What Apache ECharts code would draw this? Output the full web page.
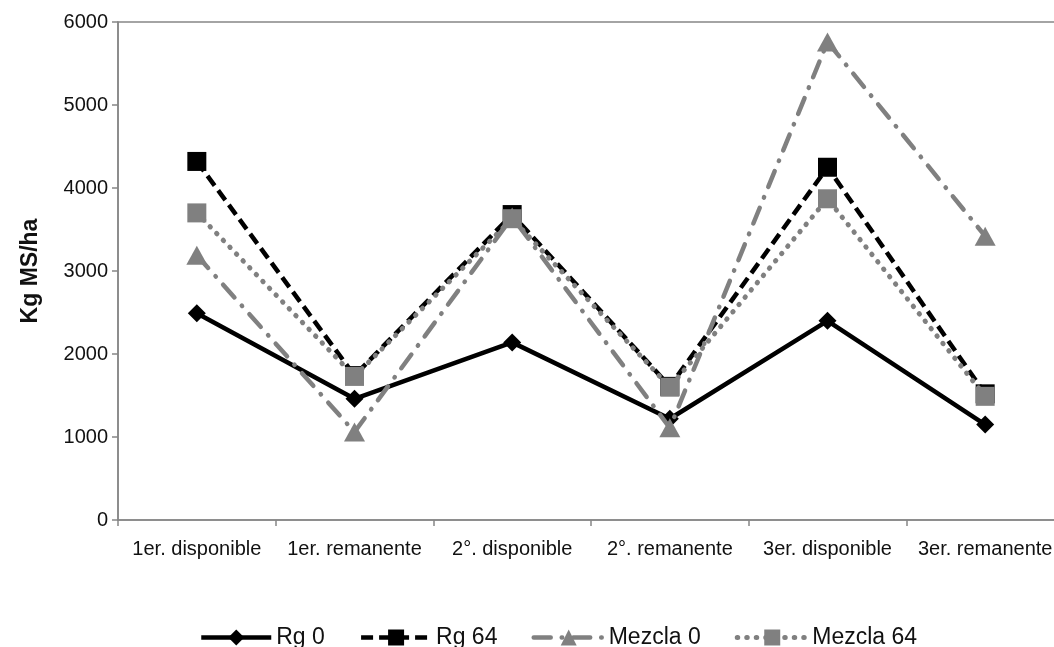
<!DOCTYPE html>
<html>
<head>
<meta charset="utf-8">
<script src="https://cdn.jsdelivr.net/npm/echarts@6/dist/echarts.min.js"></script>
<style>
html,body{margin:0;padding:0;background:#fff;}
#chart{width:1054px;height:647px;}
</style>
</head>
<body>
<div id="chart"></div>
<script>
const categories = ['1er. disponible','1er. remanente','2°. disponible','2°. remanente','3er. disponible','3er. remanente'];
const yTicks = [0, 1000, 2000, 3000, 4000, 5000, 6000];
const seriesNames = ['Rg 0', 'Rg 64', 'Mezcla 0', 'Mezcla 64'];
const rg0   = [2490, 1460, 2140, 1220, 2400, 1150];
const rg64  = [4320, 1740, 3680, 1610, 4250, 1520];
const mez0  = [3190, 1060, 3650, 1110, 5760, 3420];
const mez64 = [3700, 1730, 3630, 1600, 3870, 1490];

const FONT = '"Liberation Sans", Arial, sans-serif';
const AXIS = '#868686';
const GRAY = '#808080';

const chart = echarts.init(document.getElementById('chart'), null, {renderer: 'canvas'});
chart.setOption({
  backgroundColor: '#fff',
  animation: false,
  textStyle: {fontFamily: FONT},
  grid: {
    left: 118, top: 22, width: 946, bottom: 127,
    outerBoundsMode: 'none',
    containLabel: false,
    show: true, borderColor: AXIS, borderWidth: 1.5, backgroundColor: 'transparent'
  },
  legend: {
    top: 621,
    left: 194,
    itemWidth: 70,
    itemHeight: 20,
    itemGap: 34,
    lineStyle: {width: 'inherit'},
    textStyle: {fontFamily: FONT, fontSize: 23, color: '#111', padding: [0, 0, 0, 0]},
    data: seriesNames
  },
  xAxis: {
    type: 'category',
    data: categories,
    boundaryGap: true,
    axisLine: {lineStyle: {color: AXIS, width: 1.5}},
    axisTick: {show: true, length: 6, lineStyle: {color: AXIS, width: 1.5}},
    axisLabel: {fontFamily: FONT, fontSize: 20, color: '#111', margin: 19, interval: 0}
  },
  yAxis: {
    type: 'value',
    min: yTicks[0],
    max: yTicks[yTicks.length - 1],
    interval: yTicks[1] - yTicks[0],
    name: 'Kg MS/ha',
    nameLocation: 'middle',
    nameRotate: 90,
    nameGap: 76,
    nameTextStyle: {fontFamily: FONT, fontSize: 23, fontWeight: 'bold', color: '#111'},
    axisLine: {show: true, lineStyle: {color: AXIS, width: 1.5}},
    axisTick: {show: true, length: 6, lineStyle: {color: AXIS, width: 1.5}},
    axisLabel: {fontFamily: FONT, fontSize: 20, color: '#111', margin: 10, formatter: v => String(v)},
    splitLine: {show: false}
  },
  series: [
    {
      name: seriesNames[0], type: 'line', data: rg0,
      symbol: 'diamond', symbolSize: 18,
      itemStyle: {color: '#000'},
      lineStyle: {color: '#000', width: 4.5, type: 'solid'},
      z: 2
    },
    {
      name: seriesNames[1], type: 'line', data: rg64,
      symbol: 'rect', symbolSize: 19,
      itemStyle: {color: '#000'},
      lineStyle: {color: '#000', width: 4.5, type: [12, 6]},
      z: 3
    },
    {
      name: seriesNames[2], type: 'line', data: mez0,
      symbol: 'triangle', symbolSize: [21, 19],
      itemStyle: {color: GRAY},
      lineStyle: {color: GRAY, width: 4.5, type: [17, 11, 0.5, 11], cap: 'round'},
      z: 4
    },
    {
      name: seriesNames[3], type: 'line', data: mez64,
      symbol: 'rect', symbolSize: 19,
      itemStyle: {color: GRAY},
      lineStyle: {color: GRAY, width: 5, type: [0.5, 9], cap: 'round'},
      z: 5
    }
  ]
});
</script>
</body>
</html>
